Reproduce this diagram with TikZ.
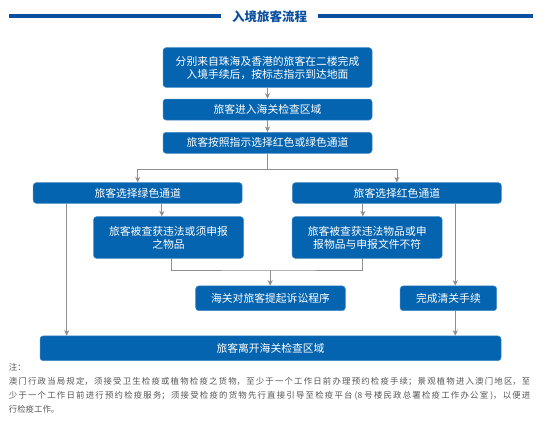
\documentclass[tikz,border=0pt]{standalone}
\usepackage{fontspec}
\newfontfamily\cjk{Noto Sans CJK SC}
\usetikzlibrary{arrows.meta}
\definecolor{boxblue}{HTML}{0564B0}
\definecolor{titleblue}{HTML}{0A4FA0}
\definecolor{linegray}{HTML}{8E8E8E}
\definecolor{notegray}{HTML}{555555}
\begin{document}
\begin{tikzpicture}[x=1pt,y=-1pt,
  flowbox/.style={rectangle, rounded corners=3pt, fill=boxblue, draw=boxblue!75!white, line width=0.5pt,
    text=white, font=\cjk\fontsize{10.8}{13}\selectfont, align=center, inner sep=0pt},
  conn/.style={draw=linegray, line width=0.8pt},
  arr/.style={conn, -{Stealth[length=5.5pt,width=5pt,inset=1.5pt]}},
  titleline/.style={draw=titleblue, line width=3.5pt},
]
\useasboundingbox (0,0) rectangle (548,423);
\fill[white] (0,0) rectangle (548,423);

% title
\node[font=\cjk\bfseries\fontsize{12.5}{14}\selectfont, text=titleblue, inner xsep=11pt, inner ysep=0pt] (title) at (269.5,16.5) {入境旅客流程};
\coordinate (tl) at (9,16);
\coordinate (tr) at (533,16);
\draw[titleline] (tl) -- (tl -| title.west);
\draw[titleline] (tr -| title.east) -- (tr);

% boxes
\node[flowbox, minimum width=209pt, minimum height=39.6pt] (b1) at (267.5,67.5) {分别来自珠海及香港的旅客在二楼完成\\入境手续后，按标志指示到达地面};
\node[flowbox, minimum width=209pt, minimum height=21pt] (b2) at (267.5,109.5) {旅客进入海关检查区域};
\node[flowbox, minimum width=209pt, minimum height=21pt] (b3) at (267.5,142.8) {旅客按照指示选择红色或绿色通道};
\node[flowbox, minimum width=209pt, minimum height=20.6pt] (green) at (137.7,193) {旅客选择绿色通道};
\node[flowbox, minimum width=209pt, minimum height=20.6pt] (red) at (396.9,193) {旅客选择红色通道};
\node[flowbox, minimum width=150pt, minimum height=41.6pt] (gsub) at (168.5,237.5) {旅客被查获违法或须申报\\之物品};
\node[flowbox, minimum width=150pt, minimum height=41.6pt] (rsub) at (367.2,237.5) {旅客被查获违法物品或申\\报物品与申报文件不符};
\node[flowbox, minimum width=149.6pt, minimum height=24.7pt] (law) at (270.5,298.3) {海关对旅客提起诉讼程序};
\node[flowbox, minimum width=96.5pt, minimum height=24.7pt] (clear) at (448.4,298.3) {完成清关手续};
\node[flowbox, minimum width=461pt, minimum height=24.7pt] (leave) at (270.5,348.3) {旅客离开海关检查区域};

% connectors
\draw[arr] (b1.south) -- (b2.north);
\draw[arr] (b2.south) -- (b3.north);
\coordinate (split) at (267.5,169.3);
\draw[conn] (b3.south) -- (split);
\draw[arr] (split) -| (green.north);
\draw[arr] (split) -| (red.north);
\draw[arr] (green.south -| 161.8,0) -- (gsub.north -| 161.8,0);
\draw[arr] (red.south -| 362.8,0) -- (rsub.north -| 362.8,0);
\draw[arr] (green.south -| 66.7,0) -- (leave.north -| 66.7,0);
\draw[arr] (red.south -| 455.3,0) -- (clear.north -| 455.3,0);
\draw[arr] (clear.south -| 455.3,0) -- (leave.north -| 455.3,0);
\coordinate (merge) at (270.2,270);
\draw[conn] (gsub.south -| 171.3,0) |- (merge) -| (rsub.south -| 362.5,0);
\draw[arr] (merge) -- (law.north -| merge);

% note
\node[anchor=north west, text width=521.5pt, align=justify, inner sep=0pt, text=notegray,
  font=\cjk\fontsize{8.4}{14}\selectfont] (note) at (8.7,363.5)
  {\XeTeXlinebreaklocale "zh"\XeTeXlinebreakskip=0pt plus 4pt\tolerance=10000
   注：\\
   澳门行政当局规定，须接受卫生检疫或植物检疫之货物，至少于一个工作日前办理预约检疫手续；景观植物进入澳门地区，至\linebreak
   少于一个工作日前进行预约检疫服务；须接受检疫的货物先行直接引导至检疫平台 (8 号楼民政总署检疫工作办公室 )，以便进\linebreak
   行检疫工作。};
\end{tikzpicture}
\end{document}
